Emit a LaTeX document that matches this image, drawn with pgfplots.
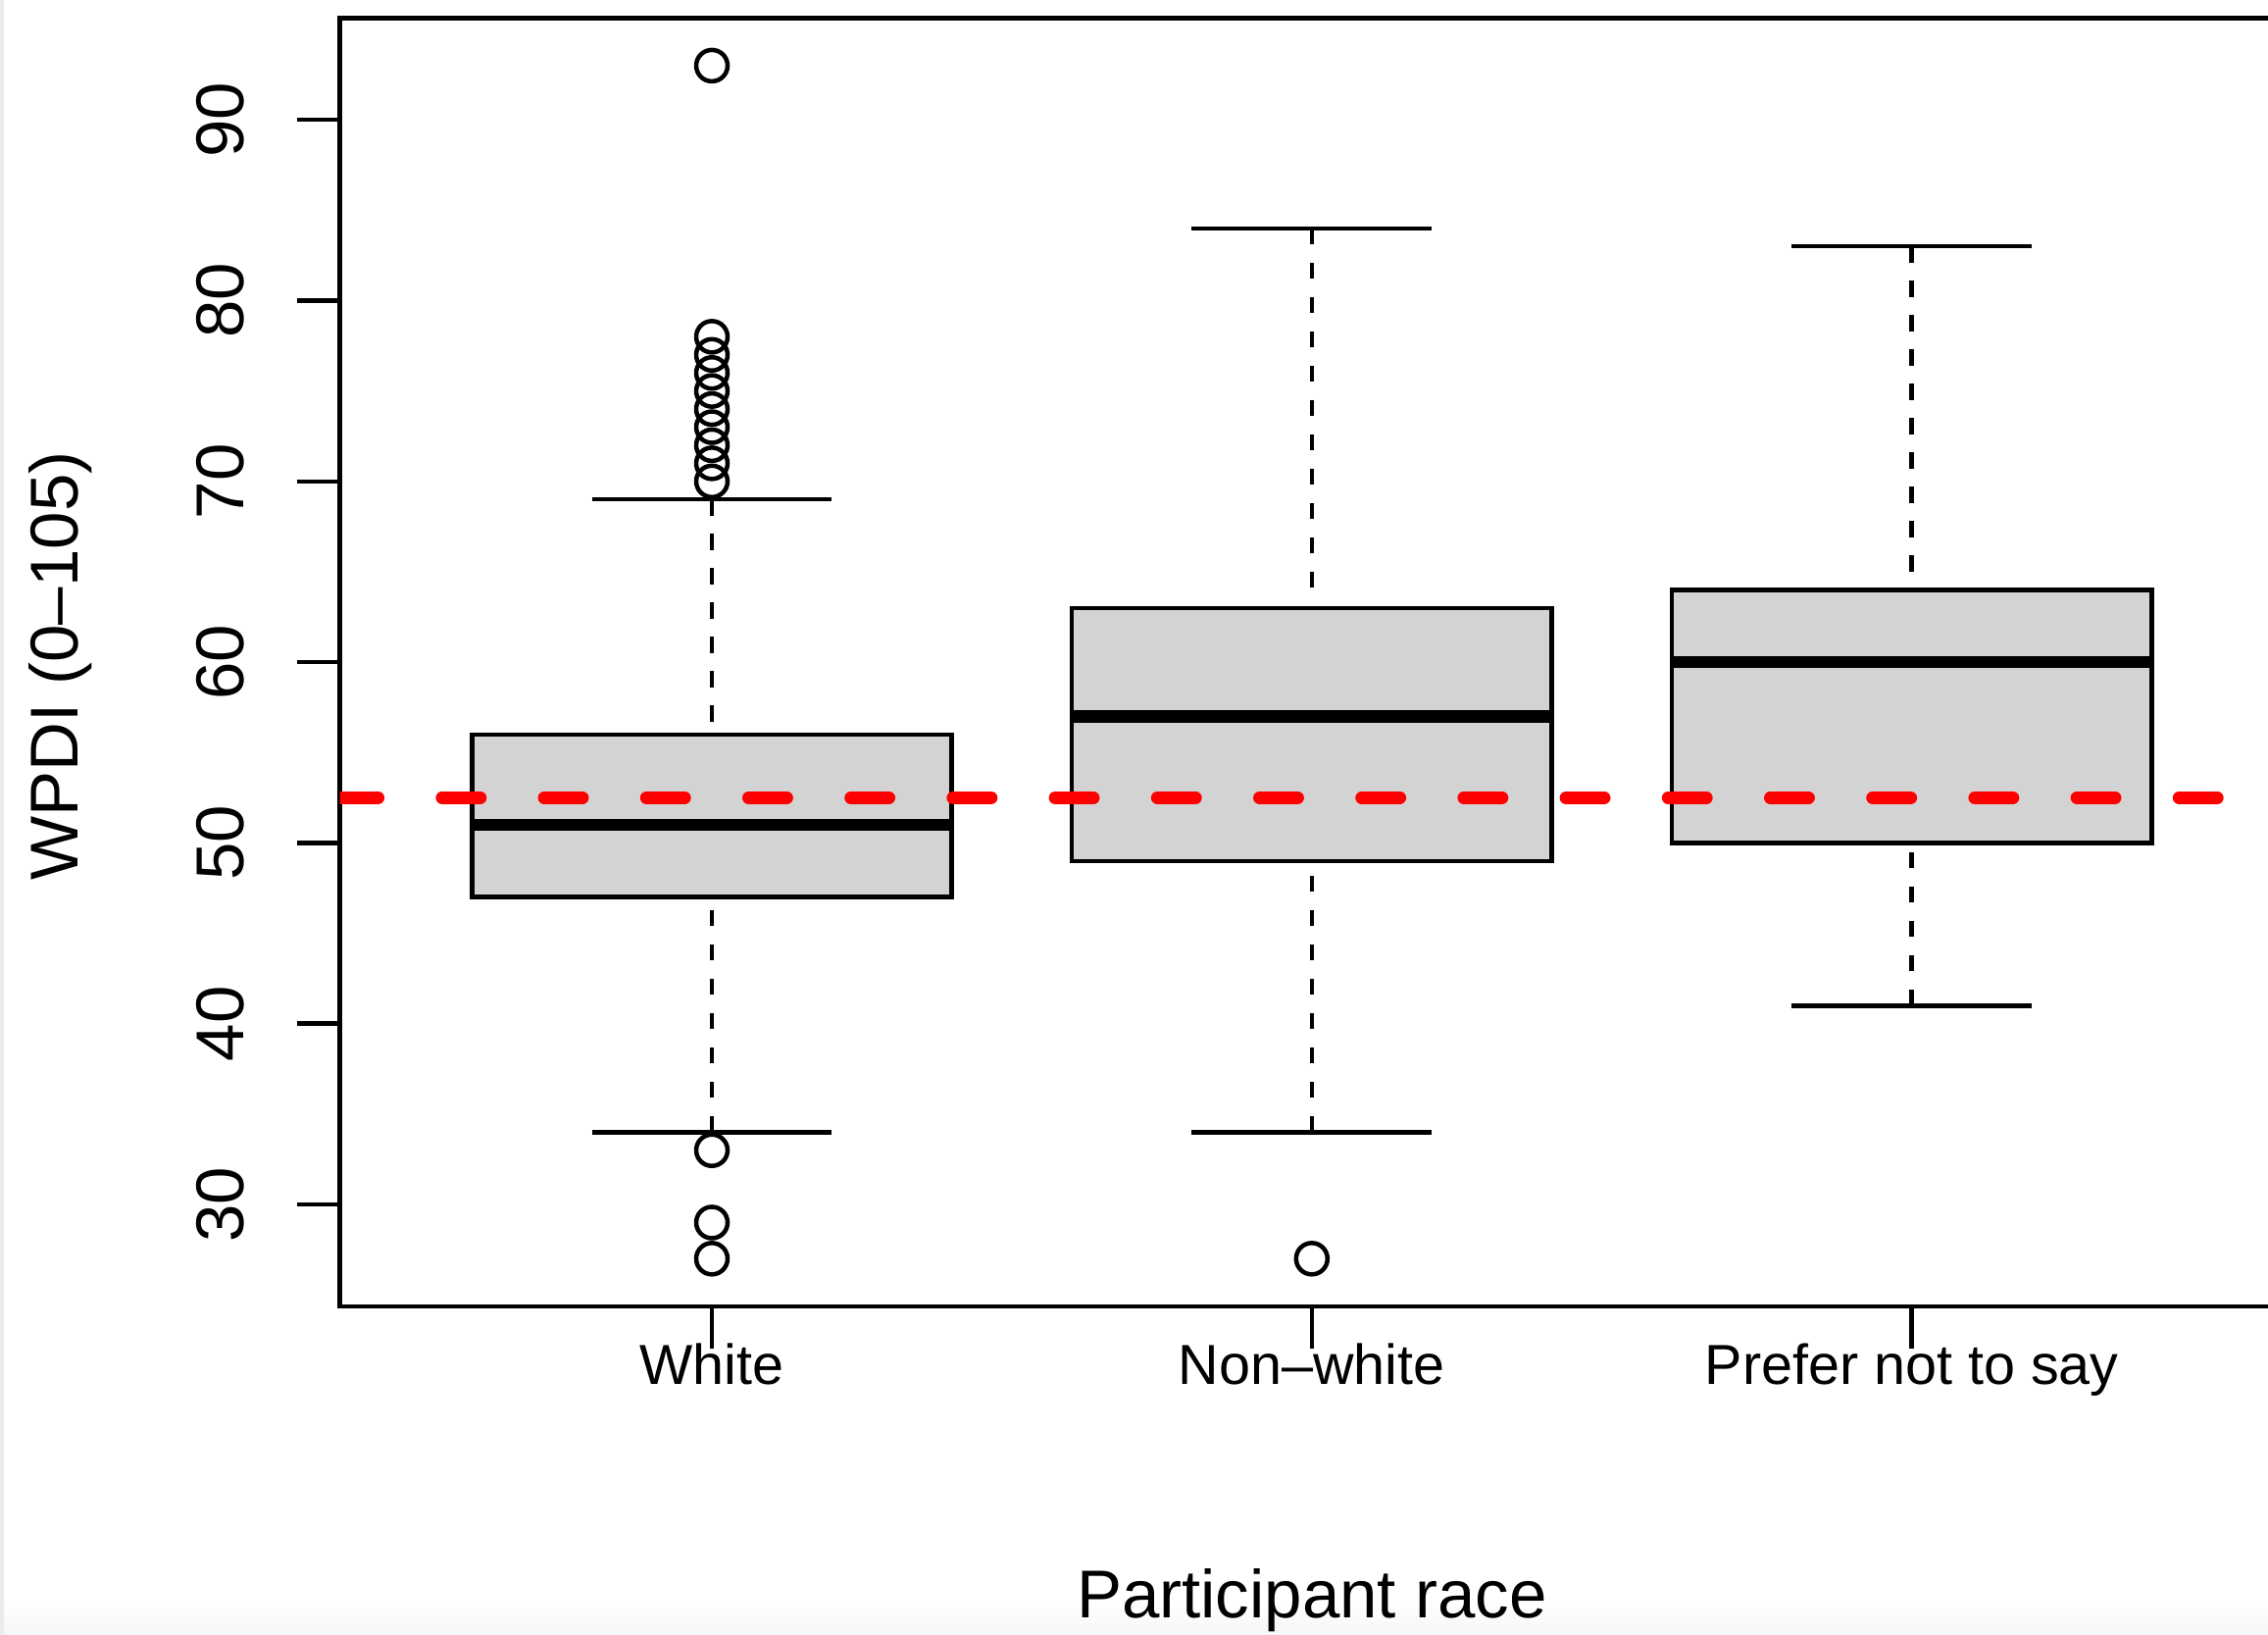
\documentclass[border=0pt]{standalone}
\usepackage{pgfplots}
\pgfplotsset{compat=1.18}
\usepackage{fontspec}
\setmainfont{Liberation Sans}
\definecolor{boxgray}{HTML}{D3D3D3}
\definecolor{stripgray}{HTML}{EBEBEB}
\definecolor{botgray}{HTML}{F6F6F6}
\pgfplotsset{
  whisk/.style={black, line width=0.9pt, dash pattern=on 3.34pt off 3.66pt},
  staple/.style={black, line width=0.9pt},
  bx/.style={draw=black, fill=boxgray, line width=0.9pt, line join=miter},
  med/.style={black, line width=2.5pt},
  outl/.style={only marks, mark=o, mark size=3.2pt, mark options={solid, draw=black, line width=0.9pt}},
}
\begin{document}
\begin{tikzpicture}
\useasboundingbox (0,0) rectangle (462.6pt,333.4pt);
\clip (0,0) rectangle (462.6pt,333.4pt);
\shade[top color=white, bottom color=botgray] (0,0) rectangle (462.6pt,7pt);
\fill[stripgray] (0,0) rectangle (0.8pt,333.4pt);
\begin{axis}[
  at={(69.34pt,67pt)}, anchor=south west,
  scale only axis,
  width=396.44pt, height=262.74pt,
  xmin=0.38, xmax=3.62,
  ymin=24.36, ymax=95.64,
  axis line style={black, line width=0.9pt},
  tick align=outside,
  major tick length=8.7pt,
  tick style={black, line width=0.9pt},
  xtick pos=left, ytick pos=left,
  xtick={1,2,3},
  xticklabels={White, Non--white, Prefer not to say},
  ytick={30,40,50,60,70,80,90},
  /pgf/number format/assume math mode=true,
  xticklabel style={anchor=base, font=\fontsize{11.5}{13}\selectfont},
  yticklabel style={rotate=90, anchor=base, font=\fontsize{13.8}{16}\selectfont},
  xticklabel shift=7.3pt,
  yticklabel shift=11pt,
  xlabel={Participant race},
  ylabel={WPDI (0--105)},
  every axis x label/.style={at={(axis description cs:0.5,-0.24206)}, anchor=base, font=\fontsize{13.8}{16}\selectfont},
  every axis y label/.style={at={(axis description cs:-0.13455,0.497)}, rotate=90, anchor=base, font=\fontsize{13.8}{16}\selectfont},
]
% ---- White: whiskers 34/69, box 47-56, median 51
\addplot[whisk] coordinates {(1,34) (1,47)};
\addplot[whisk] coordinates {(1,69) (1,56)};
\addplot[staple] coordinates {(0.8,34) (1.2,34)};
\addplot[staple] coordinates {(0.8,69) (1.2,69)};
\addplot[bx] coordinates {(0.6,47) (1.4,47) (1.4,56) (0.6,56)} -- cycle;
\addplot[med] coordinates {(0.6,51) (1.4,51)};
\addplot[outl] coordinates {(1,93) (1,78) (1,77) (1,76) (1,75) (1,74) (1,73) (1,72) (1,71) (1,70) (1,33) (1,29) (1,27)};
% ---- Non-white: whiskers 34/84, box 49-63, median 57
\addplot[whisk] coordinates {(2,34) (2,49)};
\addplot[whisk] coordinates {(2,84) (2,63)};
\addplot[staple] coordinates {(1.8,34) (2.2,34)};
\addplot[staple] coordinates {(1.8,84) (2.2,84)};
\addplot[bx] coordinates {(1.6,49) (2.4,49) (2.4,63) (1.6,63)} -- cycle;
\addplot[med] coordinates {(1.6,57) (2.4,57)};
\addplot[outl] coordinates {(2,27)};
% ---- Prefer not to say: whiskers 41/83, box 50-64, median 60
\addplot[whisk] coordinates {(3,41) (3,50)};
\addplot[whisk] coordinates {(3,83) (3,64)};
\addplot[staple] coordinates {(2.8,41) (3.2,41)};
\addplot[staple] coordinates {(2.8,83) (3.2,83)};
\addplot[bx] coordinates {(2.6,50) (3.4,50) (3.4,64) (2.6,64)} -- cycle;
\addplot[med] coordinates {(2.6,60) (3.4,60)};
% ---- reference line
\addplot[red, line width=2.6pt, dash pattern=on 7.78pt off 13.06pt, line cap=round]
  coordinates {(0.38,52.5) (3.62,52.5)};
\end{axis}
\end{tikzpicture}
\end{document}
